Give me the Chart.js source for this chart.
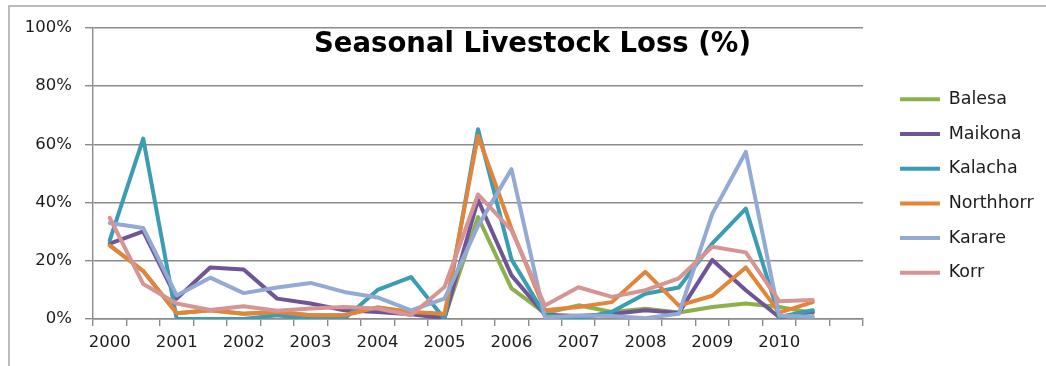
<!DOCTYPE html>
<html>
<head>
<meta charset="utf-8">
<title>Seasonal Livestock Loss (%)</title>
<style>
  html, body { margin: 0; padding: 0; background: #ffffff; overflow: hidden; }
  #wrap { position: relative; width: 1046px; height: 366px; }
  canvas { display: block; }
</style>
<script src="https://cdn.jsdelivr.net/npm/chart.js@4.4.1/dist/chart.umd.min.js"></script>
</head>
<body>
<div id="wrap"><canvas id="lossChart" width="1046" height="366"></canvas></div>
<script>
// Half-year seasons: each year label sits on its first season, the second season is unlabeled.
const seasons = ['2000', '', '2001', '', '2002', '', '2003', '', '2004', '', '2005', '',
                 '2006', '', '2007', '', '2008', '', '2009', '', '2010', '', ''];

// Seasonal livestock loss, percent of herd.
const balesa    = [25.3, 16.5, 2, 3, 1.8, 2.4, 1.3, 1.3, 4, 2.4, 0.5, 35, 10.5, 2, 4.7, 2.4, 3.5, 2.2, 4.1, 5.3, 4.1, 2.1];
const maikona   = [25.9, 30.1, 7, 17.7, 17, 7, 5.3, 3, 2.4, 1.6, 0.3, 41, 15, 1.5, 1, 1.7, 3, 2.1, 20.3, 9.9, 0.6, 2.5];
const kalacha   = [27, 62, 0, 0, 0, 1.3, 0, 0, 10, 14.4, 0, 65.2, 20.5, 1.4, 0, 2.5, 8.7, 10.8, 26, 37.9, 0.7, 3];
const northhorr = [25.3, 16.5, 2, 3, 1.8, 2.4, 1.3, 1.3, 4, 2.4, 1.8, 63, 31, 3, 4.1, 5.8, 16.2, 4.6, 8, 17.7, 2.2, 5.8];
const karare    = [33, 31.3, 8.1, 14.2, 8.9, 10.8, 12.4, 9.3, 7.4, 3, 7, 32, 51.5, 0.5, 1.2, 1, 0.3, 1.8, 36.2, 57.4, 1.1, 0.8];
const korr      = [34.8, 12, 5.3, 3.1, 4.4, 2.8, 3.6, 4.1, 3.6, 1.3, 11, 42.8, 30.5, 4.6, 10.9, 7.6, 9.9, 14, 24.8, 22.9, 6.1, 6.5];

const yTicks = [0, 20, 40, 60, 80, 100];
const chartTitle = 'Seasonal Livestock Loss (%)';

const series = [
  { name: 'Balesa',    values: balesa,    color: '#8db04b' },
  { name: 'Maikona',   values: maikona,   color: '#6f5597' },
  { name: 'Kalacha',   values: kalacha,   color: '#3b9cb2' },
  { name: 'Northhorr', values: northhorr, color: '#e2853a' },
  { name: 'Karare',    values: karare,    color: '#92aad4' },
  { name: 'Korr',      values: korr,      color: '#d69494' }
];

const GRID = '#8c8c8c';
const TEXT = '#1c1c1c';
Chart.defaults.font.family = '"DejaVu Sans", sans-serif';

// Light frame around the chart block.
const framePlugin = {
  id: 'frame',
  beforeDraw(chart) {
    const ctx = chart.ctx;
    ctx.save();
    ctx.fillStyle = '#ffffff';
    ctx.fillRect(0, 0, chart.width, chart.height);
    ctx.strokeStyle = '#a6a6a6';
    ctx.lineWidth = 1.5;
    ctx.beginPath();
    ctx.moveTo(9, chart.height);
    ctx.lineTo(9, 6);
    ctx.lineTo(chart.width, 6);
    ctx.stroke();
    ctx.restore();
  }
};

// Title laid over the upper part of the plot.
const overlayTitle = {
  id: 'overlayTitle',
  afterDatasetsDraw(chart) {
    const ctx = chart.ctx;
    ctx.save();
    ctx.font = 'bold 27.5px "DejaVu Sans", sans-serif';
    ctx.fillStyle = '#000000';
    ctx.textAlign = 'center';
    ctx.textBaseline = 'alphabetic';
    ctx.fillText(chartTitle, 532.5, 52);
    ctx.restore();
  }
};

// Legend block sits a little to the right of the plot, starting near the top,
// and may use the full remaining width up to the canvas edge.
const legendPlacement = {
  id: 'legendPlacement',
  afterLayout(chart) {
    const lg = chart.legend;
    if (!lg) return;
    lg.left = 882.8;
    lg.right = chart.width;
    lg.width = lg.right - lg.left;
    lg.top = 73.35;
    lg.bottom = chart.height;
    lg.height = lg.bottom - lg.top;
  }
};

new Chart(document.getElementById('lossChart'), {
  type: 'line',
  data: {
    labels: seasons,
    datasets: series.map((s, i) => ({
      label: s.name,
      data: s.values,
      borderColor: s.color,
      backgroundColor: s.color,
      borderWidth: 4,
      borderCapStyle: 'round',
      borderJoinStyle: 'round',
      pointRadius: 0,
      pointHoverRadius: 0,
      tension: 0,
      fill: false,
      order: series.length - i
    }))
  },
  options: {
    responsive: false,
    animation: false,
    devicePixelRatio: 1,
    events: [],
    layout: { padding: { left: 0, top: 28, right: 43, bottom: 0 } },
    scales: {
      x: {
        type: 'category',
        offset: true,
        afterFit(scale) { scale.height = 47; },
        grid: {
          display: true,
          offset: true,
          drawOnChartArea: false,
          drawTicks: true,
          tickLength: 7,
          color: GRID,
          lineWidth: 1.4
        },
        border: { display: true, color: GRID, width: 1.4 },
        ticks: {
          autoSkip: false,
          maxRotation: 0,
          minRotation: 0,
          padding: 7,
          color: TEXT,
          font: { size: 16.5 }
        }
      },
      y: {
        min: 0,
        max: 100,
        afterFit(scale) { scale.width = 93; },
        afterBuildTicks(scale) { scale.ticks = yTicks.map(v => ({ value: v })); },
        grid: {
          color: GRID,
          lineWidth: 1.4,
          drawTicks: true,
          tickLength: 8
        },
        border: { display: true, color: GRID, width: 1.4 },
        ticks: {
          padding: 13,
          color: TEXT,
          font: { size: 16.5 },
          callback: v => v + '%'
        }
      }
    },
    plugins: {
      title: { display: false },
      tooltip: { enabled: false },
      legend: {
        display: true,
        position: 'right',
        align: 'start',
        reverse: true,
        maxWidth: 140,
        labels: {
          usePointStyle: true,
          pointStyle: 'line',
          pointStyleWidth: 40,
          padding: 17.2,
          color: TEXT,
          font: { size: 17.5 }
        }
      }
    }
  },
  plugins: [framePlugin, overlayTitle, legendPlacement]
});
</script>
</body>
</html>
